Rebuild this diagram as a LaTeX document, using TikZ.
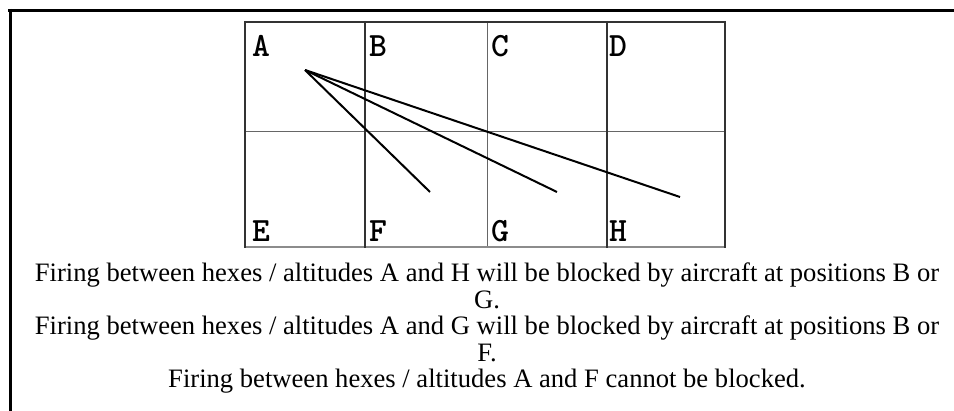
\documentclass[tikz,border=0pt]{standalone}
\usepackage{fontspec}
\setmainfont{Liberation Serif}
\begin{document}
\begin{tikzpicture}[x=1pt,y=-1pt,
  frameline/.style={line width=3pt,black},
  gridthick/.style={line width=2pt,draw=black!80},
  gridthin/.style={line width=1pt,draw=black!60},
  fireline/.style={line width=2pt,black},
  celllabel/.style={anchor=base west,inner sep=0pt,font=\ttfamily\bfseries\fontsize{34}{34}\selectfont},
  caption/.style={anchor=base,inner sep=0pt,font=\fontsize{26.6}{28}\selectfont}]
\useasboundingbox (0,0) rectangle (954,411);
% frame
\draw[frameline] (8,10.5) -- (954,10.5);
\draw[frameline] (10.5,9) -- (10.5,411);
% grid
\draw[gridthin] (245,132) -- (725,132);
\draw[gridthin] (487,22) -- (487,247);
\draw[gridthin,draw=black!45,line width=1.5pt] (245,247) -- (725,247);
\draw[gridthick] (245,22) -- (725,22);
\draw[gridthick] (245,21) -- (245,248);
\draw[gridthick,line width=2.5pt] (365,21) -- (365,248);
\draw[gridthick] (607,21) -- (607,248);
\draw[gridthick] (725,21) -- (725,248);
% labels
\node[celllabel] (A) at (252,56.5) {A};
\node[celllabel] (B) at (369,56.5) {B};
\node[celllabel] (C) at (491,56.5) {C};
\node[celllabel] (D) at (609,56.5) {D};
\node[celllabel] (E) at (252,242) {E};
\node[celllabel] (F) at (369,242) {F};
\node[celllabel] (G) at (491,242) {G};
\node[celllabel] (H) at (609,242) {H};
% firing lines
\coordinate (o) at (305,70);
\coordinate (tf) at (430,192);
\coordinate (tg) at (557,192);
\coordinate (th) at (680,197);
\draw[fireline] (o) -- (tf);
\draw[fireline] (o) -- (tg);
\draw[fireline] (o) -- (th);
% caption
\node[caption] (l1) at (487,282) {Firing between hexes / altitudes A and H will be blocked by aircraft at positions B or};
\node[caption] (l2) at (487,308.5) {G.};
\node[caption] (l3) at (487,335) {Firing between hexes / altitudes A and G will be blocked by aircraft at positions B or};
\node[caption] (l4) at (487,361.5) {F.};
\node[caption] (l5) at (487,388) {Firing between hexes / altitudes A and F cannot be blocked.};
\end{tikzpicture}
\end{document}
